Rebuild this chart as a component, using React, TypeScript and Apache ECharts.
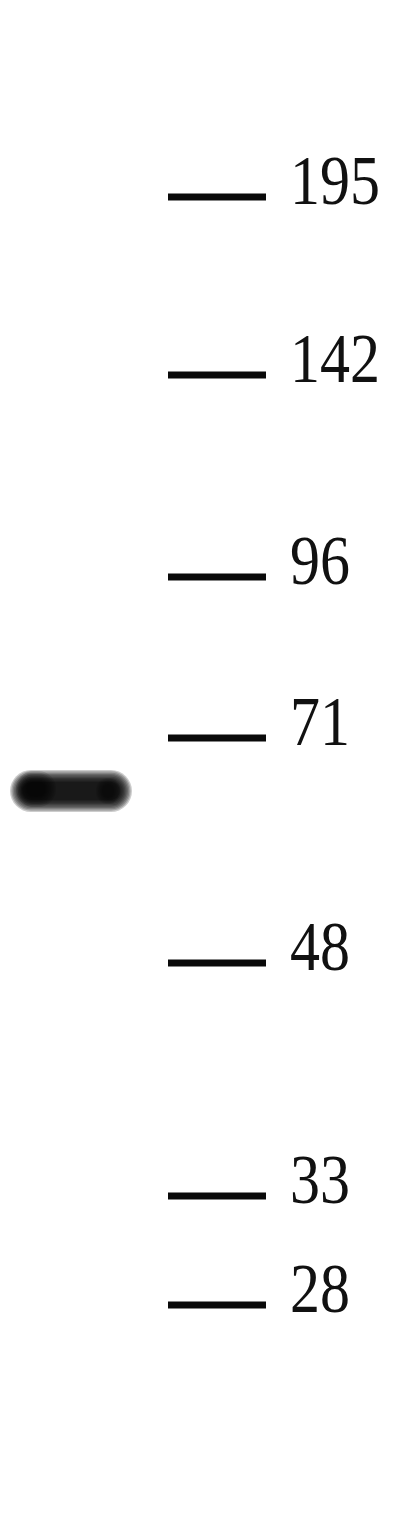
import { useEffect, useRef } from 'react';
import * as echarts from 'echarts';

// Ladder markers (kDa) and their migration distance (mm x10 from the top of the blot)
const ladderMw = [195, 142, 96, 71, 48, 33, 28];
const ladderMigration = [19.7, 37.5, 57.7, 73.8, 96.3, 119.6, 130.5];

// Sample lane: one band
const sampleBandMigration = [79.0];
const sampleBandIntensity = [1.0];

const blotLength = 152;
const blotWidth = 40.8;

// soft-edged blob: concentric rounded rects with low opacity
function blob(x: number, y: number, w: number, h: number, alpha: number, steps: number, spread: number) {
  const out: any[] = [];
  for (let i = steps; i >= 0; i--) {
    const e = (spread * i) / steps;
    out.push({
      type: 'rect',
      shape: { x: x - e, y: y - e, width: w + 2 * e, height: h + 2 * e, r: Math.min(h, w) / 2 + e },
      style: { fill: '#000000', opacity: alpha },
    });
  }
  return out;
}

export default function App() {
  const chartRef = useRef<HTMLDivElement>(null);

  useEffect(() => {
    document.body.style.margin = '0';
    if (!chartRef.current) {
      return;
    }
    const chart = echarts.init(chartRef.current, null, { renderer: 'svg' });

    const option: echarts.EChartsOption = {
      animation: false,
      backgroundColor: '#ffffff',
      grid: { left: 0, right: 0, top: 0, bottom: 0 },
      xAxis: { type: 'value', min: 0, max: blotWidth, show: false },
      yAxis: { type: 'value', min: 0, max: blotLength, inverse: true, show: false },
      series: [
        {
          type: 'custom',
          name: 'ladder',
          data: ladderMw.map((mw, i) => [ladderMigration[i], mw]),
          renderItem: (_params: any, api: any) => {
            const migration = api.value(0);
            const mw = api.value(1);
            const start = api.coord([16.8, migration]);
            const end = api.coord([26.6, migration]);
            const labelPos = api.coord([29.0, migration]);
            return {
              type: 'group',
              children: [
                {
                  type: 'line',
                  shape: { x1: start[0], y1: start[1], x2: end[0], y2: end[1] },
                  style: { stroke: '#0a0a0a', lineWidth: 7, lineCap: 'butt' },
                },
                {
                  type: 'text',
                  x: labelPos[0],
                  y: labelPos[1] - 17,
                  scaleY: 1.17,
                  style: {
                    text: String(mw),
                    x: 0,
                    y: 0,
                    fontFamily: 'Liberation Serif',
                    fontSize: 60,
                    fill: '#111111',
                    textAlign: 'left',
                    textVerticalAlign: 'middle',
                  },
                },
              ],
            };
          },
        },
        {
          type: 'custom',
          name: 'sample',
          data: sampleBandMigration.map((m, i) => [m, sampleBandIntensity[i]]),
          renderItem: (_params: any, api: any) => {
            const migration = api.value(0);
            const alpha = api.value(1);
            const left = api.coord([1.6, migration]);
            const right = api.coord([12.6, migration]);
            const cy = left[1];
            const w = right[0] - left[0];
            return {
              type: 'group',
              children: [
                ...blob(left[0] + 6, cy - 8, w - 12, 18, 0.2 * alpha, 9, 12),
                ...blob(left[0] + 10, cy - 9, 20, 16, 0.12 * alpha, 6, 10),
                ...blob(right[0] - 24, cy - 6, 12, 14, 0.1 * alpha, 5, 6),
              ],
            };
          },
        },
      ],
    };

    chart.setOption(option);
    return () => {
      chart.dispose();
    };
  }, []);

  return <div ref={chartRef} style={{ width: '408px', height: '1520px' }} />;
}
